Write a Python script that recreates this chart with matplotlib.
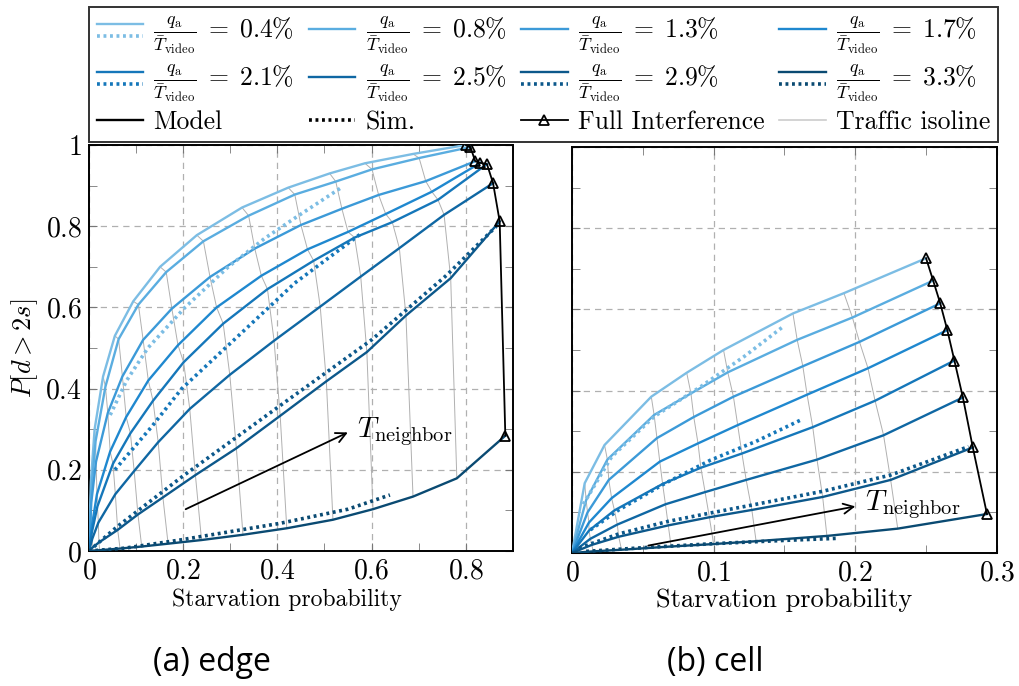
import numpy as np
import matplotlib
matplotlib.use('Agg')
import matplotlib.pyplot as plt
from matplotlib.lines import Line2D
from matplotlib.legend_handler import HandlerBase
from matplotlib.ticker import MultipleLocator, FuncFormatter

plt.rcParams['font.family'] = ['cmr10', 'DejaVu Serif']
plt.rcParams['mathtext.fontset'] = 'cm'
plt.rcParams['axes.formatter.use_mathtext'] = True

# q_a / T_video levels
rates = ['0.4', '0.8', '1.3', '1.7', '2.1', '2.5', '2.9', '3.3']
colors = ['#7cbde4', '#5aade0', '#3c9ad8', '#1f88cf', '#1577ba',
          '#0f67a3', '#0c588b', '#0a4a72']

# ---- (a) edge : model curves, one row per rate, last point = full interference
edge_x = [
    [0.004, 0.012, 0.030, 0.055, 0.094, 0.151, 0.229, 0.325, 0.423, 0.511, 0.586, 0.688, 0.800],
    [0.005, 0.014, 0.035, 0.063, 0.105, 0.164, 0.243, 0.339, 0.437, 0.524, 0.601, 0.701, 0.810],
    [0.005, 0.015, 0.040, 0.071, 0.115, 0.176, 0.257, 0.352, 0.450, 0.537, 0.615, 0.715, 0.820],
    [0.006, 0.017, 0.045, 0.079, 0.126, 0.189, 0.271, 0.366, 0.464, 0.550, 0.630, 0.728, 0.831],
    [0.006, 0.018, 0.051, 0.088, 0.136, 0.201, 0.285, 0.379, 0.477, 0.564, 0.644, 0.741, 0.845],
    [0.007, 0.020, 0.056, 0.096, 0.147, 0.214, 0.299, 0.393, 0.491, 0.577, 0.659, 0.754, 0.858],
    [0.007, 0.021, 0.061, 0.104, 0.157, 0.226, 0.313, 0.406, 0.504, 0.590, 0.673, 0.768, 0.872],
    [0.008, 0.023, 0.066, 0.112, 0.168, 0.239, 0.327, 0.420, 0.518, 0.603, 0.688, 0.781, 0.884],
]
edge_y = [
    [0.170, 0.300, 0.430, 0.530, 0.615, 0.700, 0.778, 0.846, 0.895, 0.930, 0.955, 0.978, 1.000],
    [0.150, 0.270, 0.405, 0.522, 0.607, 0.687, 0.763, 0.826, 0.878, 0.910, 0.940, 0.968, 0.995],
    [0.120, 0.220, 0.340, 0.430, 0.520, 0.597, 0.675, 0.745, 0.803, 0.843, 0.877, 0.911, 0.960],
    [0.060, 0.140, 0.245, 0.330, 0.420, 0.507, 0.600, 0.678, 0.743, 0.786, 0.830, 0.885, 0.956],
    [0.045, 0.110, 0.215, 0.290, 0.370, 0.465, 0.560, 0.645, 0.715, 0.772, 0.810, 0.865, 0.953],
    [0.030, 0.070, 0.140, 0.197, 0.268, 0.350, 0.434, 0.518, 0.602, 0.676, 0.746, 0.828, 0.906],
    [0.008, 0.021, 0.052, 0.090, 0.132, 0.187, 0.253, 0.333, 0.418, 0.490, 0.580, 0.672, 0.812],
    [0.001, 0.002, 0.006, 0.011, 0.018, 0.027, 0.040, 0.056, 0.077, 0.103, 0.134, 0.179, 0.284],
]
# simulation results (rate index -> points)
edge_sim_idx = [0, 4, 6, 7]
edge_sim_x = [
    [0.045, 0.080, 0.125, 0.204, 0.296, 0.373, 0.437, 0.533],
    [0.055, 0.133, 0.197, 0.296, 0.437, 0.578],
    [0.0, 0.060, 0.200, 0.420, 0.600, 0.760, 0.865],
    [0.0, 0.076, 0.193, 0.405, 0.550, 0.639],
]
edge_sim_y = [
    [0.335, 0.420, 0.500, 0.600, 0.700, 0.770, 0.820, 0.893],
    [0.200, 0.306, 0.400, 0.507, 0.660, 0.782],
    [0.0, 0.060, 0.185, 0.370, 0.520, 0.680, 0.800],
    [0.0, 0.007, 0.027, 0.068, 0.103, 0.138],
]

# ---- (b) cell
cell_x = [
    [0.009, 0.023, 0.056, 0.081, 0.107, 0.156, 0.192, 0.250],
    [0.010, 0.025, 0.058, 0.084, 0.110, 0.159, 0.198, 0.255],
    [0.011, 0.026, 0.060, 0.086, 0.114, 0.163, 0.203, 0.260],
    [0.012, 0.028, 0.062, 0.089, 0.117, 0.166, 0.209, 0.265],
    [0.012, 0.030, 0.064, 0.091, 0.120, 0.170, 0.214, 0.270],
    [0.013, 0.032, 0.066, 0.094, 0.123, 0.173, 0.220, 0.276],
    [0.014, 0.033, 0.068, 0.097, 0.127, 0.177, 0.225, 0.283],
    [0.015, 0.035, 0.070, 0.100, 0.130, 0.180, 0.230, 0.293],
]
cell_y = [
    [0.172, 0.266, 0.385, 0.444, 0.500, 0.590, 0.640, 0.726],
    [0.130, 0.230, 0.340, 0.393, 0.445, 0.525, 0.580, 0.671],
    [0.100, 0.180, 0.283, 0.335, 0.385, 0.460, 0.520, 0.615],
    [0.075, 0.135, 0.225, 0.270, 0.315, 0.390, 0.455, 0.549],
    [0.055, 0.105, 0.170, 0.210, 0.245, 0.310, 0.375, 0.474],
    [0.035, 0.070, 0.120, 0.150, 0.180, 0.230, 0.290, 0.383],
    [0.020, 0.040, 0.068, 0.088, 0.106, 0.138, 0.180, 0.260],
    [0.004, 0.008, 0.016, 0.022, 0.029, 0.042, 0.060, 0.096],
]
cell_sim_idx = [0, 4, 6, 7]
cell_sim_x = [
    [0.008, 0.028, 0.058, 0.091, 0.122, 0.150],
    [0.013, 0.033, 0.066, 0.098, 0.130, 0.163],
    [0.005, 0.033, 0.068, 0.097, 0.127, 0.177, 0.225, 0.280],
    [0.010, 0.050, 0.100, 0.150, 0.187],
]
cell_sim_y = [
    [0.120, 0.237, 0.336, 0.410, 0.485, 0.560],
    [0.057, 0.106, 0.172, 0.229, 0.275, 0.330],
    [0.012, 0.047, 0.078, 0.098, 0.118, 0.152, 0.192, 0.262],
    [0.004, 0.013, 0.023, 0.031, 0.036],
]

DOT = (0, (0.8, 1.0))
LW = 1.7
ISO = '#b0b0b0'


def draw_panel(ax, xs, ys, sim_idx, sim_x, sim_y):
    # traffic isolines through matching vertices
    for k in range(len(xs[0]) - 1):
        ax.plot([r[k] for r in xs], [r[k] for r in ys], color=ISO, lw=0.7, zorder=1)
    for i in range(len(xs)):
        ax.plot([0] + xs[i], [0] + ys[i], color=colors[i], lw=LW, zorder=3)
    for j, i in enumerate(sim_idx):
        ax.plot(sim_x[j], sim_y[j], color=colors[i], lw=2.6, ls=DOT, zorder=3)
    ax.plot([r[-1] for r in xs], [r[-1] for r in ys], color='k', lw=1.3,
            marker='^', ms=7.5, mfc='none', mec='k', mew=1.3, zorder=5)


def style_axes(ax, xmax, xmajor, xminor, xlabel_size):
    ax.set_xlim(0, xmax)
    ax.set_ylim(0, 1)
    ax.xaxis.set_major_locator(MultipleLocator(xmajor))
    ax.xaxis.set_minor_locator(MultipleLocator(xminor))
    ax.yaxis.set_major_locator(MultipleLocator(0.2))
    ax.yaxis.set_minor_locator(MultipleLocator(0.1))
    ax.grid(True, which='major', ls=(0, (5, 4)), color='#b0b0b0', lw=0.9, zorder=0)
    ax.tick_params(which='both', direction='in', top=True, right=True,
                   length=6, color='#777777', labelsize=20, pad=5)
    ax.xaxis.set_major_formatter(FuncFormatter(lambda v, p: '$%g$' % round(v, 2)))
    ax.yaxis.set_major_formatter(FuncFormatter(lambda v, p: '$%g$' % round(v, 2)))
    for s in ax.spines.values():
        s.set_linewidth(1.4)
    ax.set_xlabel('Starvation probability', fontsize=xlabel_size)


fig = plt.figure(figsize=(10.19, 6.86), dpi=100)
ax1 = fig.add_axes([0.0873, 0.1968, 0.416, 0.5918])
ax2 = fig.add_axes([0.5613, 0.1939, 0.417, 0.5918])

draw_panel(ax1, edge_x, edge_y, edge_sim_idx, edge_sim_x, edge_sim_y)
style_axes(ax1, 0.9, 0.2, 0.1, 17)
ax1.xaxis.set_label_coords(0.467, -0.092)
ax1.set_ylabel(r'$P[d > 2s]$', fontsize=19, labelpad=4)
ax1.annotate('', xy=(0.555, 0.295), xytext=(0.2, 0.1),
             arrowprops=dict(arrowstyle='->', lw=1.3, color='k', mutation_scale=18))
ax1.text(0.57, 0.295, r'$T_{\mathrm{neighbor}}$', fontsize=21, va='center')

draw_panel(ax2, cell_x, cell_y, cell_sim_idx, cell_sim_x, cell_sim_y)
style_axes(ax2, 0.3, 0.1, 0.05, 19)
ax2.xaxis.set_label_coords(0.5, -0.088)
ax2.tick_params(labelleft=False)
ax2.annotate('', xy=(0.202, 0.116), xytext=(0.052, 0.017),
             arrowprops=dict(arrowstyle='->', lw=1.3, color='k', mutation_scale=18))
ax2.text(0.207, 0.118, r'$T_{\mathrm{neighbor}}$', fontsize=21, va='center')

fig.text(0.208, 0.034, '(a) edge', fontsize=23, family='Open Sans', ha='center', va='center')
fig.text(0.702, 0.034, '(b) cell', fontsize=23, family='Open Sans', ha='center', va='center')


class PairHandler(HandlerBase):
    # solid model line on top, dotted simulation line below
    def create_artists(self, legend, orig_handle, xdescent, ydescent,
                       width, height, fontsize, trans):
        col = orig_handle[0].get_color()
        x = [-xdescent, -xdescent + width]
        top = Line2D(x, [height * 0.8 - ydescent] * 2, color=col, lw=LW)
        bot = Line2D(x, [height * 0.15 - ydescent] * 2, color=col, lw=2.6, ls=DOT)
        top.set_transform(trans)
        bot.set_transform(trans)
        return [top, bot]


handles = []
labels = []
for i, r in enumerate(rates):
    solid = Line2D([], [], color=colors[i], lw=LW)
    if i in edge_sim_idx:
        handles.append((solid, Line2D([], [], color=colors[i], lw=2.6, ls=DOT)))
    else:
        handles.append(solid)
    labels.append(r'$\frac{q_{\mathrm{a}}}{\bar{T}_{\mathrm{video}}}\;=\;%s\%%$' % r)

h_model = Line2D([], [], color='k', lw=LW)
h_sim = Line2D([], [], color='k', lw=2.6, ls=DOT)
h_full = Line2D([], [], color='k', lw=1.3, marker='^', ms=7.5, mfc='none', mew=1.3)
h_iso = Line2D([], [], color='#cccccc', lw=1.2)

# column-major order for a 4 column legend
order_h = [handles[0], handles[4], h_model,
           handles[1], handles[5], h_sim,
           handles[2], handles[6], h_full,
           handles[3], handles[7], h_iso]
order_l = [labels[0], labels[4], 'Model',
           labels[1], labels[5], 'Sim.',
           labels[2], labels[6], 'Full Interference',
           labels[3], labels[7], 'Traffic isoline']

leg = fig.legend(order_h, order_l, ncol=4, loc='upper left',
                 bbox_to_anchor=(0.0873, 0.990, 0.892, 0.0), mode='expand',
                 borderaxespad=0, fontsize=18.5, handlelength=1.8, numpoints=1,
                 handletextpad=0.4, columnspacing=0.5, labelspacing=0.25,
                 borderpad=0.3, fancybox=False, edgecolor='#333333', framealpha=1,
                 handler_map={tuple: PairHandler()})
leg.get_frame().set_linewidth(1.4)

fig.savefig('out.png', dpi=100)
